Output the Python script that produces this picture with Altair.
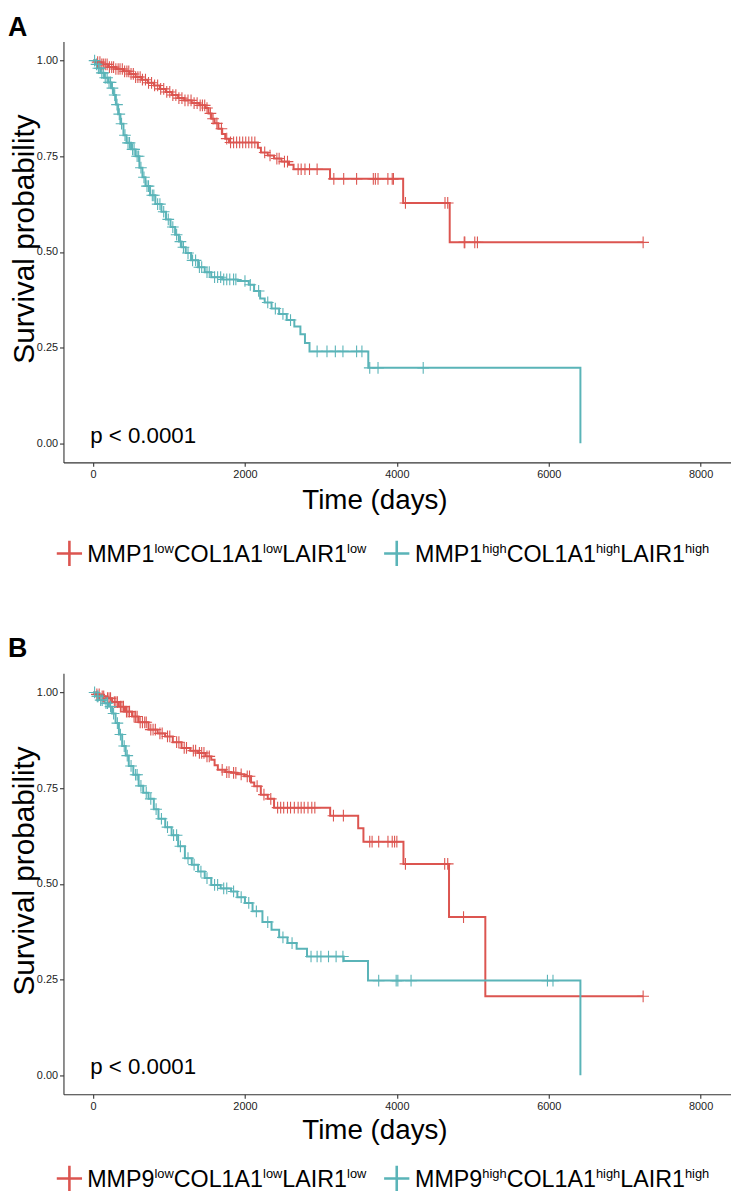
import altair as alt
import pandas as pd

# ---------------- data ----------------
# Panel A : MMP1 / COL1A1 / LAIR1
A_LOW_T = [0, 40, 100, 200, 300, 400, 480, 560, 640, 720, 800, 880, 960, 1040, 1120, 1200, 1300, 1400, 1480, 1520,
           1560, 1600, 1650, 1700, 1740, 1790, 2170, 2210, 2300, 2383, 2480, 2580, 2640, 3120, 4083, 4696, 7243]
A_LOW_S = [1.0, 0.996, 0.990, 0.983, 0.978, 0.972, 0.965, 0.957, 0.950, 0.942, 0.935, 0.926, 0.918, 0.910, 0.902,
           0.896, 0.889, 0.883, 0.876, 0.862, 0.848, 0.836, 0.822, 0.808, 0.796, 0.786, 0.772, 0.760, 0.752, 0.744,
           0.736, 0.728, 0.716, 0.691, 0.628, 0.525, 0.525]
A_LOW_C = [60, 90, 115, 135, 160, 185, 215, 245, 270, 300, 330, 355, 385, 415, 445, 470, 500, 530, 560, 590, 620,
           650, 690, 730, 770, 810, 850, 890, 930, 970, 1010, 1050, 1090, 1130, 1170, 1210, 1250, 1290, 1330, 1370,
           1410, 1440, 1470, 1500, 1545, 1580, 1630, 1690, 1760, 1810, 1850, 1890, 1930, 1970, 2010, 2050, 2090,
           2130, 2260, 2330, 2420, 2450, 2520, 2560, 2700, 2740, 2790, 2850, 2950, 3170, 3300, 3470, 3690, 3717,
           3752, 3882, 3939, 3955, 4113, 4634, 4670, 4887, 4895, 5026, 5061, 7243]

A_HIGH_T = [0, 30, 60, 100, 150, 200, 240, 270, 300, 330, 360, 400, 440, 500, 560, 610, 650, 690, 750, 820, 900,
            960, 1020, 1080, 1130, 1165, 1220, 1290, 1383, 1470, 1556, 1700, 1904, 2050, 2120, 2200, 2260, 2350,
            2450, 2550, 2650, 2730, 2790, 2850, 3624, 6417]
A_HIGH_S = [1.0, 0.990, 0.980, 0.968, 0.955, 0.943, 0.928, 0.910, 0.885, 0.860, 0.835, 0.805, 0.785, 0.768, 0.750,
            0.720, 0.695, 0.672, 0.648, 0.625, 0.605, 0.585, 0.565, 0.545, 0.527, 0.512, 0.497, 0.478, 0.460, 0.447,
            0.434, 0.428, 0.424, 0.414, 0.398, 0.378, 0.368, 0.352, 0.338, 0.322, 0.305, 0.285, 0.262, 0.240, 0.197,
            0.0]
A_HIGH_C = [20, 45, 70, 90, 115, 135, 160, 185, 210, 230, 255, 285, 315, 345, 375, 420, 460, 480, 520, 540, 580, 600,
            630, 670, 710, 730, 780, 800, 850, 880, 930, 990, 1050, 1100, 1150, 1190, 1250, 1310, 1350, 1400, 1430,
            1500, 1530, 1600, 1640, 1680, 1720, 1760, 1800, 1850, 1880, 2000, 2070, 2180, 2300, 2400, 2500, 2600,
            2950, 3080, 3190, 3290, 3470, 3540, 3643, 3752, 4347]

# Panel B : MMP9 / COL1A1 / LAIR1
B_LOW_T = [0, 40, 100, 165, 250, 339, 420, 513, 600, 730, 850, 948, 1050, 1165, 1280, 1383, 1480, 1556, 1600, 1643,
           1740, 1817, 1900, 1991, 2080, 2122, 2209, 2300, 2383, 3122, 3491, 3560, 4087, 4687, 5165, 7243]
B_LOW_S = [1.0, 0.995, 0.990, 0.985, 0.975, 0.963, 0.950, 0.937, 0.922, 0.903, 0.893, 0.885, 0.870, 0.855, 0.848,
           0.842, 0.833, 0.824, 0.810, 0.798, 0.792, 0.790, 0.786, 0.781, 0.765, 0.755, 0.733, 0.722, 0.699, 0.678,
           0.645, 0.610, 0.552, 0.413, 0.206, 0.206]
B_LOW_C = [50, 80, 120, 140, 190, 210, 230, 280, 300, 320, 360, 380, 400, 440, 460, 480, 540, 560, 580, 620, 650,
           680, 700, 760, 790, 820, 880, 910, 980, 1010, 1100, 1130, 1200, 1230, 1320, 1350, 1400, 1430, 1460, 1500,
           1530, 1700, 1760, 1790, 1850, 1880, 1950, 2030, 2060, 2160, 2250, 2340, 2430, 2470, 2510, 2560, 2600,
           2650, 2700, 2740, 2780, 2830, 2880, 2920, 3165, 3296, 3643, 3674, 3761, 3883, 3939, 3970, 4000, 4113,
           4630, 4670, 4878, 7243]

B_HIGH_T = [0, 40, 78, 150, 209, 250, 296, 340, 383, 430, 470, 530, 600, 660, 730, 800, 861, 950, 1034, 1120, 1209,
            1300, 1383, 1470, 1556, 1680, 1817, 1900, 2000, 2100, 2230, 2350, 2450, 2560, 2680, 2817, 3300, 3620, 6417]
B_HIGH_S = [1.0, 0.990, 0.980, 0.972, 0.963, 0.945, 0.920, 0.890, 0.860, 0.835, 0.808, 0.785, 0.756, 0.738, 0.722,
            0.695, 0.670, 0.648, 0.627, 0.598, 0.567, 0.550, 0.532, 0.515, 0.497, 0.488, 0.480, 0.465, 0.450, 0.428,
            0.400, 0.380, 0.360, 0.345, 0.330, 0.310, 0.298, 0.247, 0.0]
B_HIGH_C = [20, 55, 65, 100, 120, 170, 190, 230, 270, 320, 360, 410, 450, 500, 560, 580, 630, 700, 760, 830, 900, 980,
            1060, 1100, 1150, 1250, 1330, 1420, 1500, 1600, 1640, 1720, 1760, 1850, 1950, 2050, 2150, 2300, 2500,
            2620, 2870, 2950, 3000, 3100, 3200, 3290, 3761, 3991, 4013, 4187, 5983, 6056]

X_TICKS = [0, 2000, 4000, 6000, 8000]
Y_TICKS = [0.0, 0.25, 0.50, 0.75, 1.00]
P_TEXT = "p < 0.0001"

# ---------------- styling ----------------
FONT = "Liberation Sans"
RED = "#DC5550"
TEAL = "#5AB4B8"
W, H = 674, 425
XDOM = [-390, 8400]
YDOM = [-0.05, 1.05]
PLUS = "M0,-1V1M-1,0H1"

# Arial / Liberation Sans advance widths (per 1000 em) for legend layout
CW = {'M': 833, 'P': 667, '1': 556, '9': 556, 'C': 722, 'O': 778, 'L': 556, 'A': 667, 'I': 278,
      'R': 722, 'l': 222, 'o': 556, 'w': 722, 'h': 556, 'i': 222, 'g': 556}


def text_w(s, fs):
    return sum(CW[c] for c in s) / 1000.0 * fs


def surv_at(ts, ss, c):
    v = ss[0]
    for t, s in zip(ts, ss):
        if t <= c:
            v = s
        else:
            break
    return v


def txt(label, x, y, size, weight="normal", color="black", baseline="alphabetic"):
    return alt.Chart(alt.Data(values=[{"lab": label}])).mark_text(
        align="left", baseline=baseline, font=FONT, fontSize=size,
        fontWeight=weight, color=color
    ).encode(x=alt.value(x), y=alt.value(y), text="lab:N")


def panel(low_t, low_s, low_c, high_t, high_s, high_c, letter, gene, letter_y, title_y, leg_y):
    lines = pd.DataFrame({
        "t": low_t + high_t,
        "S": low_s + high_s,
        "g": ["low"] * len(low_t) + ["high"] * len(high_t),
    })
    cens = pd.DataFrame({
        "t": low_c + high_c,
        "S": [surv_at(low_t, low_s, c) for c in low_c] + [surv_at(high_t, high_s, c) for c in high_c],
        "g": ["low"] * len(low_c) + ["high"] * len(high_c),
    })
    xenc = alt.X("t:Q", scale=alt.Scale(domain=XDOM, nice=False, zero=False),
                 axis=alt.Axis(values=X_TICKS, format="d", title="Time (days)",
                               titleX=314, titleY=title_y, titleAlign="center",
                               titleBaseline="alphabetic", titleFontSize=28))
    yenc = alt.Y("S:Q", scale=alt.Scale(domain=YDOM, nice=False, zero=False),
                 axis=alt.Axis(values=Y_TICKS, format=".2f", title="Survival probability",
                               titleAngle=270, titleX=-54, titleY=199, titleAlign="center",
                               titleBaseline="top", titleFontSize=30))
    cenc = alt.Color("g:N", scale=alt.Scale(domain=["low", "high"], range=[RED, TEAL]), legend=None)

    line_layer = alt.Chart(lines).mark_line(interpolate="step-after", strokeWidth=2).encode(
        x=xenc, y=yenc, color=cenc, detail="g:N")
    cens_layer = alt.Chart(cens).mark_point(shape=PLUS, size=140, strokeWidth=1.1, filled=False,
                                            opacity=1).encode(x="t:Q", y="S:Q", color=cenc)

    layers = [line_layer, cens_layer,
              txt(letter, -56, letter_y, 27, weight="bold", baseline="top"),
              txt(P_TEXT, 27, 405, 22.5)]

    # legend (drawn by hand because of the superscripts)
    main_fs, sup_fs = 23.5, 13
    base = leg_y + 9
    for level, sx, tx, col in [("low", 6, 24, RED), ("high", 336.5, 355, TEAL)]:
        layers.append(alt.Chart(alt.Data(values=[{"k": 1}])).mark_point(
            shape=PLUS, size=650, strokeWidth=2.6, filled=False, opacity=1, color=col
        ).encode(x=alt.value(sx), y=alt.value(leg_y)))
        x = tx
        for word in [gene, "COL1A1", "LAIR1"]:
            layers.append(txt(word, x, base, main_fs))
            x += text_w(word, main_fs)
            layers.append(txt(level, x, base - 9, sup_fs))
            x += text_w(level, sup_fs)

    return alt.layer(*layers).properties(width=W, height=H)


pA = panel(A_LOW_T, A_LOW_S, A_LOW_C, A_HIGH_T, A_HIGH_S, A_HIGH_C, "A", "MMP1", -27, 47, 517)
pB = panel(B_LOW_T, B_LOW_S, B_LOW_C, B_HIGH_T, B_HIGH_S, B_HIGH_C, "B", "MMP9", -37, 45, 510)

chart = alt.vconcat(pA, pB, spacing=213, bounds="flush").properties(
    padding=0, background="white"
).configure_view(stroke=None).configure_axis(
    domainColor="#333333", tickColor="#333333", domainWidth=1.1, tickWidth=1.1, tickSize=4,
    labelFont=FONT, labelFontSize=11, labelColor="#222222", labelPadding=2,
    titleFont=FONT, titleFontWeight="normal", titleColor="black", grid=False
)

chart.save("out.html", embed_options={"renderer": "svg", "actions": False})
